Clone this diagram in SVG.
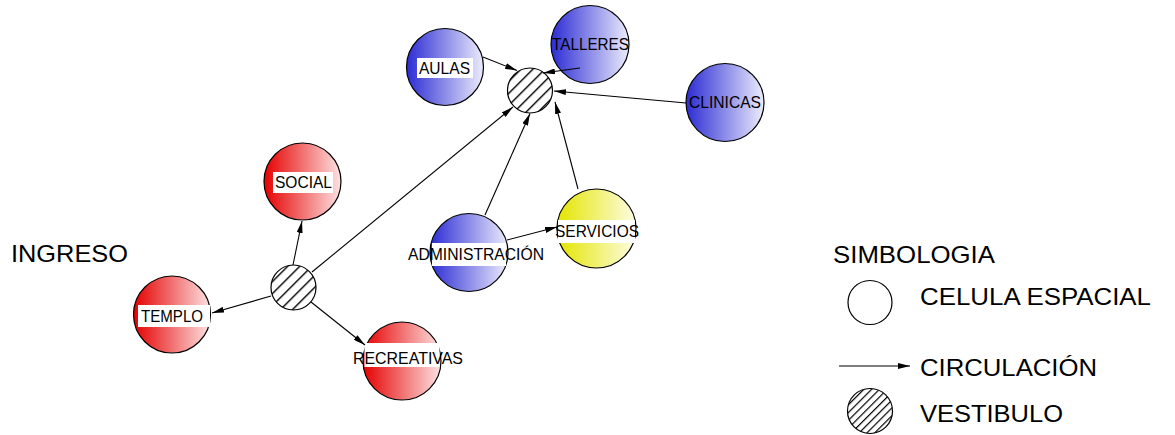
<svg xmlns="http://www.w3.org/2000/svg" width="1175" height="435" viewBox="0 0 1175 435">
<defs>
<linearGradient id="gBlue" x1="0" y1="0" x2="1" y2="0"><stop offset="0" stop-color="#2c2cd4"/><stop offset="1" stop-color="#ececfc"/></linearGradient>
<linearGradient id="gRed" x1="0" y1="0" x2="1" y2="0"><stop offset="0" stop-color="#e60000"/><stop offset="1" stop-color="#fde2e2"/></linearGradient>
<linearGradient id="gYel" x1="0" y1="0" x2="1" y2="0"><stop offset="0" stop-color="#e4e400"/><stop offset="1" stop-color="#fdfde4"/></linearGradient>
<pattern id="hatch" patternUnits="userSpaceOnUse" width="8.5" height="8.5" patternTransform="rotate(45)"><rect width="8.5" height="8.5" fill="#fff"/><line x1="0.7" y1="0" x2="0.7" y2="8.5" stroke="#000" stroke-width="1.4"/></pattern>
<pattern id="hatchS" patternUnits="userSpaceOnUse" width="5.5" height="5.5" patternTransform="rotate(45)"><rect width="5.5" height="5.5" fill="#fff"/><line x1="0.6" y1="0" x2="0.6" y2="5.5" stroke="#000" stroke-width="1.2"/></pattern>
<marker id="arr" viewBox="0 0 12 6" refX="12" refY="3" markerWidth="12" markerHeight="6" markerUnits="userSpaceOnUse" orient="auto"><path d="M0,0 L12,3 L0,6 Z" fill="#000"/></marker>
</defs>
<style>
.n{stroke:#000;stroke-width:1.2}
.lb{font-family:"Liberation Sans",Arial,sans-serif;font-size:16.5px;fill:#000}
.big{font-family:"Liberation Sans",Arial,sans-serif;font-size:24.5px;fill:#000}
.bg{fill:#fff}
.c line{stroke:#000;stroke-width:1.1;marker-end:url(#arr)}
</style>
<rect width="1175" height="435" fill="#fff"/>
<g id="aulas"><circle class="n" cx="445" cy="67" r="38.5" fill="url(#gBlue)"/><rect class="bg" x="417" y="58" width="56" height="20"/><text class="lb" x="419" y="74" textLength="51" lengthAdjust="spacingAndGlyphs">AULAS</text></g>
<g id="talleres"><circle class="n" cx="590" cy="44.5" r="39" fill="url(#gBlue)"/><text class="lb" x="552" y="50" textLength="77" lengthAdjust="spacingAndGlyphs">TALLERES</text></g>
<g id="clinicas"><circle class="n" cx="725" cy="102.5" r="39" fill="url(#gBlue)"/><text class="lb" x="689" y="108" textLength="72" lengthAdjust="spacingAndGlyphs">CLINICAS</text></g>
<g id="vestibulo1"><circle class="n" cx="530" cy="90.5" r="22.5" fill="url(#hatch)"/></g>
<g id="social"><circle class="n" cx="302.5" cy="181.5" r="38.5" fill="url(#gRed)"/><rect class="bg" x="273" y="172" width="60" height="21"/><text class="lb" x="275" y="188" textLength="57" lengthAdjust="spacingAndGlyphs">SOCIAL</text></g>
<g id="templo"><circle class="n" cx="172" cy="314.5" r="38.5" fill="url(#gRed)"/><rect class="bg" x="138" y="305" width="72" height="22"/><text class="lb" x="141" y="322" textLength="62" lengthAdjust="spacingAndGlyphs">TEMPLO</text></g>
<g id="vestibulo2"><circle class="n" cx="293.5" cy="287.5" r="22.5" fill="url(#hatch)"/></g>
<g id="recreativas"><circle class="n" cx="402" cy="361" r="39" fill="url(#gRed)"/><rect class="bg" x="364.5" y="343" width="75" height="24"/><text class="lb" x="353" y="364" textLength="110" lengthAdjust="spacingAndGlyphs">RECREATIVAS</text></g>
<g id="administracion"><circle class="n" cx="469" cy="252.5" r="39" fill="url(#gBlue)"/><rect class="bg" x="432" y="243" width="74" height="23"/><text class="lb" x="408" y="260" textLength="136" lengthAdjust="spacingAndGlyphs">ADMINISTRACIÓN</text></g>
<g id="servicios"><circle class="n" cx="596.5" cy="228.5" r="39.5" fill="url(#gYel)"/><rect class="bg" x="558" y="220" width="77" height="23"/><text class="lb" x="555" y="237" textLength="84" lengthAdjust="spacingAndGlyphs">SERVICIOS</text></g>
<g id="connectors" class="c">
<line x1="483" y1="57" x2="517" y2="70.5"/>
<line x1="580" y1="68" x2="543" y2="73"/>
<line x1="686" y1="103" x2="554" y2="91"/>
<line x1="312" y1="272" x2="513" y2="107"/>
<line x1="485" y1="215" x2="530" y2="113.5"/>
<line x1="578" y1="189" x2="555" y2="102"/>
<line x1="507" y1="240" x2="557" y2="227"/>
<line x1="293" y1="265" x2="302" y2="221"/>
<line x1="271" y1="296" x2="212" y2="313"/>
<line x1="311" y1="302" x2="365" y2="345"/>
</g>
<g id="ingreso"><text class="big" x="11" y="262" textLength="117" lengthAdjust="spacingAndGlyphs">INGRESO</text></g>
<g id="legend">
<text class="big" x="833" y="263" textLength="162" lengthAdjust="spacingAndGlyphs">SIMBOLOGIA</text>
<circle cx="870" cy="302.5" r="22" fill="#fff" stroke="#000" stroke-width="1.2"/>
<text class="big" x="920" y="305" textLength="231" lengthAdjust="spacingAndGlyphs">CELULA ESPACIAL</text>
<line x1="839" y1="366" x2="910" y2="366" stroke="#000" stroke-width="1.1" marker-end="url(#arr)"/>
<text class="big" x="920" y="376" textLength="177" lengthAdjust="spacingAndGlyphs">CIRCULACIÓN</text>
<circle cx="870" cy="411" r="22.5" fill="url(#hatchS)" stroke="#000" stroke-width="1.2"/>
<text class="big" x="920" y="422" textLength="143" lengthAdjust="spacingAndGlyphs">VESTIBULO</text>
</g>
</svg>
